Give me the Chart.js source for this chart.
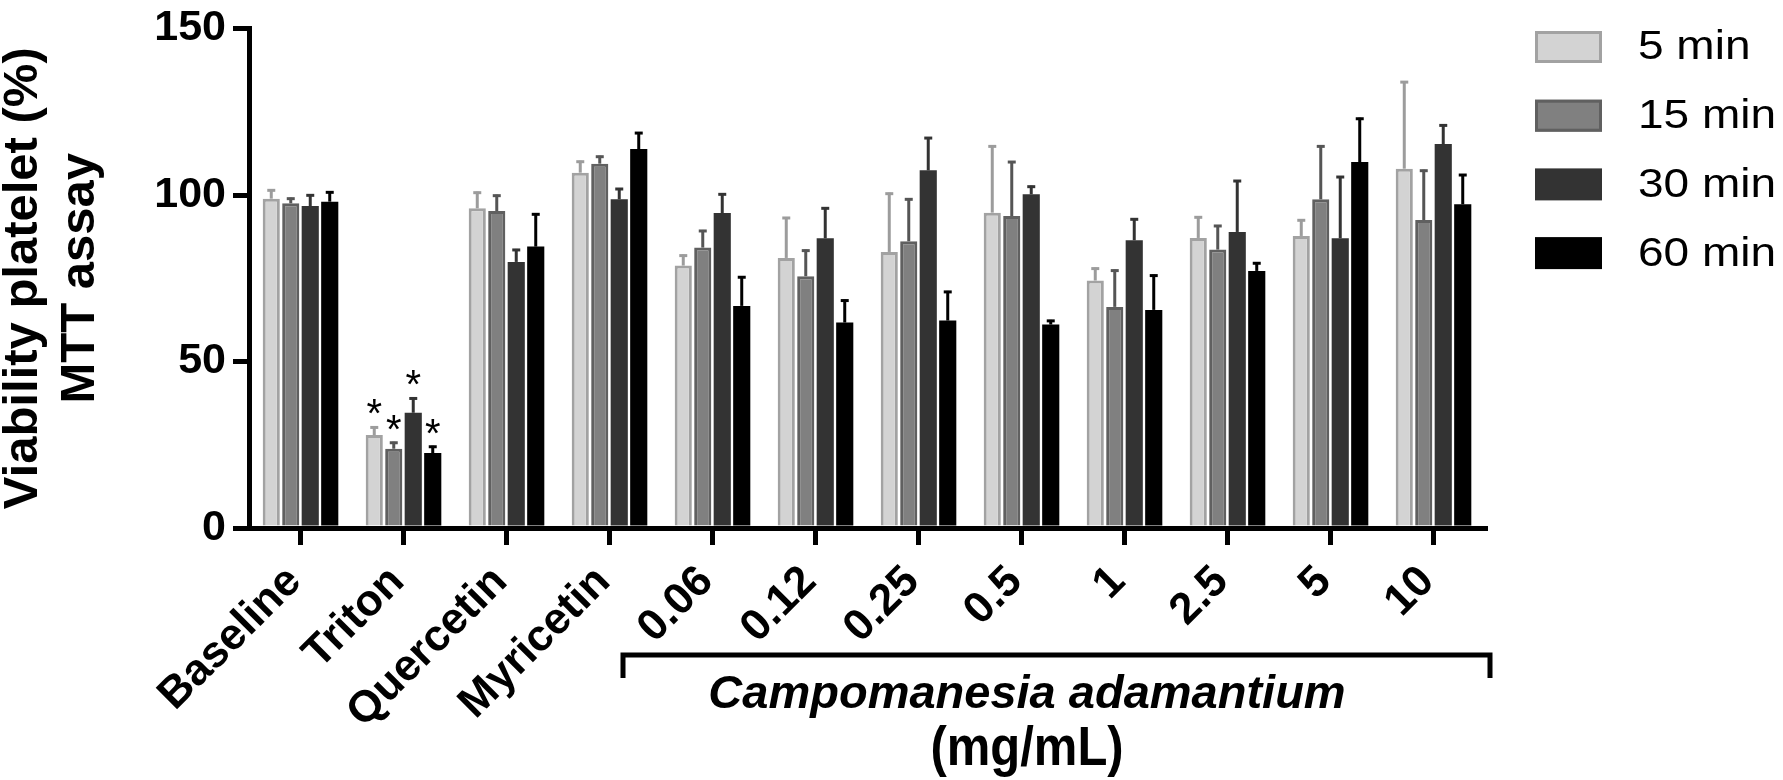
<!DOCTYPE html>
<html><head><meta charset="utf-8">
<script src="https://cdn.jsdelivr.net/npm/chart.js@4.4.1/dist/chart.umd.min.js"></script>
<style>html,body{margin:0;padding:0;background:#fff;overflow:hidden;} #wrap{width:1783px;height:780px;position:relative;}</style>
</head><body><div id="wrap"><canvas id="c" width="1783" height="780"></canvas></div>
<script>
// ---- data ----
const categories = ['Baseline','Triton','Quercetin','Myricetin','0.06','0.12','0.25','0.5','1','2.5','5','10'];
const seriesNames = ['5 min','15 min','30 min','60 min'];
const mean5  = [98.9, 27.9, 96.0, 106.7, 78.8, 81.1, 82.9, 94.7, 74.3, 87.1, 87.7, 107.9];
const sd5    = [2.8, 2.6, 5.0, 3.6, 3.3, 12.3, 17.8, 20.2, 3.9, 6.5, 5.0, 26.3];
const mean15 = [97.5, 23.8, 95.2, 109.4, 84.2, 75.6, 86.1, 93.7, 66.4, 83.6, 98.7, 92.5];
const sd15   = [1.7, 2.1, 4.9, 2.4, 5.3, 8.0, 12.9, 16.5, 11.2, 7.4, 16.2, 15.1];
const mean30 = [96.7, 34.6, 79.9, 98.7, 94.6, 87.0, 107.4, 100.2, 86.4, 88.9, 87.0, 115.3];
const sd30   = [3.5, 4.6, 3.9, 3.4, 5.9, 9.3, 10.0, 2.6, 6.6, 15.6, 18.7, 5.9];
const mean60 = [98.0, 22.5, 84.5, 113.8, 66.7, 61.7, 62.3, 61.1, 65.5, 77.2, 109.9, 97.2];
const sd60   = [3.1, 2.2, 10.0, 5.1, 8.9, 6.9, 8.9, 1.4, 10.6, 2.6, 13.3, 9.1];
const yTicks = [0, 50, 100, 150];
const significant = [1]; // category indices marked with *
const yTitle = ['Viability platelet (%)', 'MTT assay'];
const groupTitle = 'Campomanesia adamantium';
const groupUnit = '(mg/mL)';

// ---- styles ----
const FONT = "'Liberation Sans', Arial, Helvetica, sans-serif";
const fills   = ['#d3d3d3', '#808080', '#333333', '#000000'];
const borders = ['#a2a2a2', '#606060', '#2e2e2e', '#000000'];
const errCols = ['#9c9c9c', '#555555', '#333333', '#000000'];
const means = [mean5, mean15, mean30, mean60];
const sds = [sd5, sd15, sd30, sd60];

const datasets = seriesNames.map((n, i) => ({
  label: n,
  data: means[i],
  errors: sds[i],
  backgroundColor: fills[i],
  borderColor: borders[i],
  borderWidth: i < 2 ? 3 : 0,
  borderSkipped: 'bottom',
  errColor: errCols[i]
}));

const errorBarPlugin = {
  id: 'errbars',
  afterDatasetsDraw(chart) {
    const {ctx} = chart; const y = chart.scales.y;
    chart.data.datasets.forEach((ds, i) => {
      const meta = chart.getDatasetMeta(i);
      meta.data.forEach((bar, j) => {
        const top = y.getPixelForValue(ds.data[j] + ds.errors[j]);
        ctx.save();
        ctx.strokeStyle = ds.errColor; ctx.lineWidth = 3; ctx.lineCap = 'butt';
        ctx.beginPath();
        ctx.moveTo(bar.x, bar.y); ctx.lineTo(bar.x, top);
        ctx.stroke();
        ctx.beginPath();
        ctx.moveTo(bar.x - 4, top + 1); ctx.lineTo(bar.x + 4, top + 1);
        ctx.stroke();
        if (significant.includes(j)) {
          ctx.fillStyle = '#000';
          ctx.font = '40px ' + FONT;
          ctx.textAlign = 'center'; ctx.textBaseline = 'alphabetic';
          ctx.fillText('*', bar.x, top + 1);
        }
        ctx.restore();
      });
    });
  }
};

const extrasPlugin = {
  id: 'extras',
  afterDraw(chart) {
    const {ctx} = chart;
    ctx.save();
    // legend
    seriesNames.forEach((n, i) => {
      const bx = 1535, by = 31 + i * 68.7, bw = 67, bh = 32;
      ctx.fillStyle = fills[i];
      ctx.fillRect(bx, by, bw, bh);
      if (i < 2) {
        ctx.strokeStyle = borders[i]; ctx.lineWidth = 3;
        ctx.strokeRect(bx + 1.5, by + 1.5, bw - 3, bh - 3);
      }
      ctx.save();
      ctx.translate(1638, by + bh / 2 + 1);
      ctx.scale(1, 0.9);
      ctx.fillStyle = '#000';
      ctx.font = '46px ' + FONT;
      ctx.textAlign = 'left'; ctx.textBaseline = 'middle';
      ctx.fillText(n, 0, 0);
      ctx.restore();
    });
    // bracket
    ctx.strokeStyle = '#000'; ctx.lineWidth = 5; ctx.lineJoin = 'miter';
    ctx.beginPath();
    ctx.moveTo(623, 678); ctx.lineTo(623, 655); ctx.lineTo(1490, 655); ctx.lineTo(1490, 678);
    ctx.stroke();
    ctx.fillStyle = '#000';
    ctx.textAlign = 'center'; ctx.textBaseline = 'alphabetic';
    ctx.font = 'italic bold 47px ' + FONT;
    ctx.fillText(groupTitle, 1027, 708);
    ctx.save();
    ctx.translate(1027, 765);
    ctx.scale(1, 1.13);
    ctx.font = 'bold 49px ' + FONT;
    ctx.fillText(groupUnit, 0, 0);
    ctx.restore();
    ctx.restore();
  }
};

new Chart(document.getElementById('c'), {
  type: 'bar',
  data: { labels: categories, datasets },
  options: {
    responsive: false, animation: false, devicePixelRatio: 1,
    layout: { padding: { left: 0, right: 298, top: 22, bottom: 0 } },
    plugins: { legend: { display: false }, tooltip: { enabled: false } },
    datasets: { bar: { categoryPercentage: 0.757, barPercentage: 0.88 } },
    scales: {
      x: {
        offset: true,
        grid: { display: true, drawOnChartArea: false, drawTicks: true, offset: false, tickLength: 17, lineWidth: 5, color: '#000' },
        border: { display: true, width: 5, color: '#000' },
        ticks: { autoSkip: false, maxRotation: 45, minRotation: 45, padding: 11, labelOffset: -6, color: '#000',
                 font: { family: FONT, size: 44, weight: 'bold', lineHeight: 1.2 } },
        afterFit: s => { s.height = 252; }
      },
      y: {
        min: 0, max: 150,
        afterBuildTicks: s => { s.ticks = yTicks.map(v => ({ value: v })); },
        grid: { display: true, drawOnChartArea: false, drawTicks: true, tickLength: 16, lineWidth: 5, color: '#000' },
        border: { display: true, width: 5, color: '#000' },
        ticks: { padding: 7, color: '#000', font: { family: FONT, size: 43, weight: 'bold', lineHeight: 1 } },
        title: { display: true, text: yTitle, color: '#000', padding: { top: -5, bottom: 0 },
                 font: { family: FONT, size: 49, weight: 'bold', lineHeight: 1.163 } },
        afterFit: s => { s.width = 249; }
      }
    }
  },
  plugins: [errorBarPlugin, extrasPlugin]
});
</script></body></html>
